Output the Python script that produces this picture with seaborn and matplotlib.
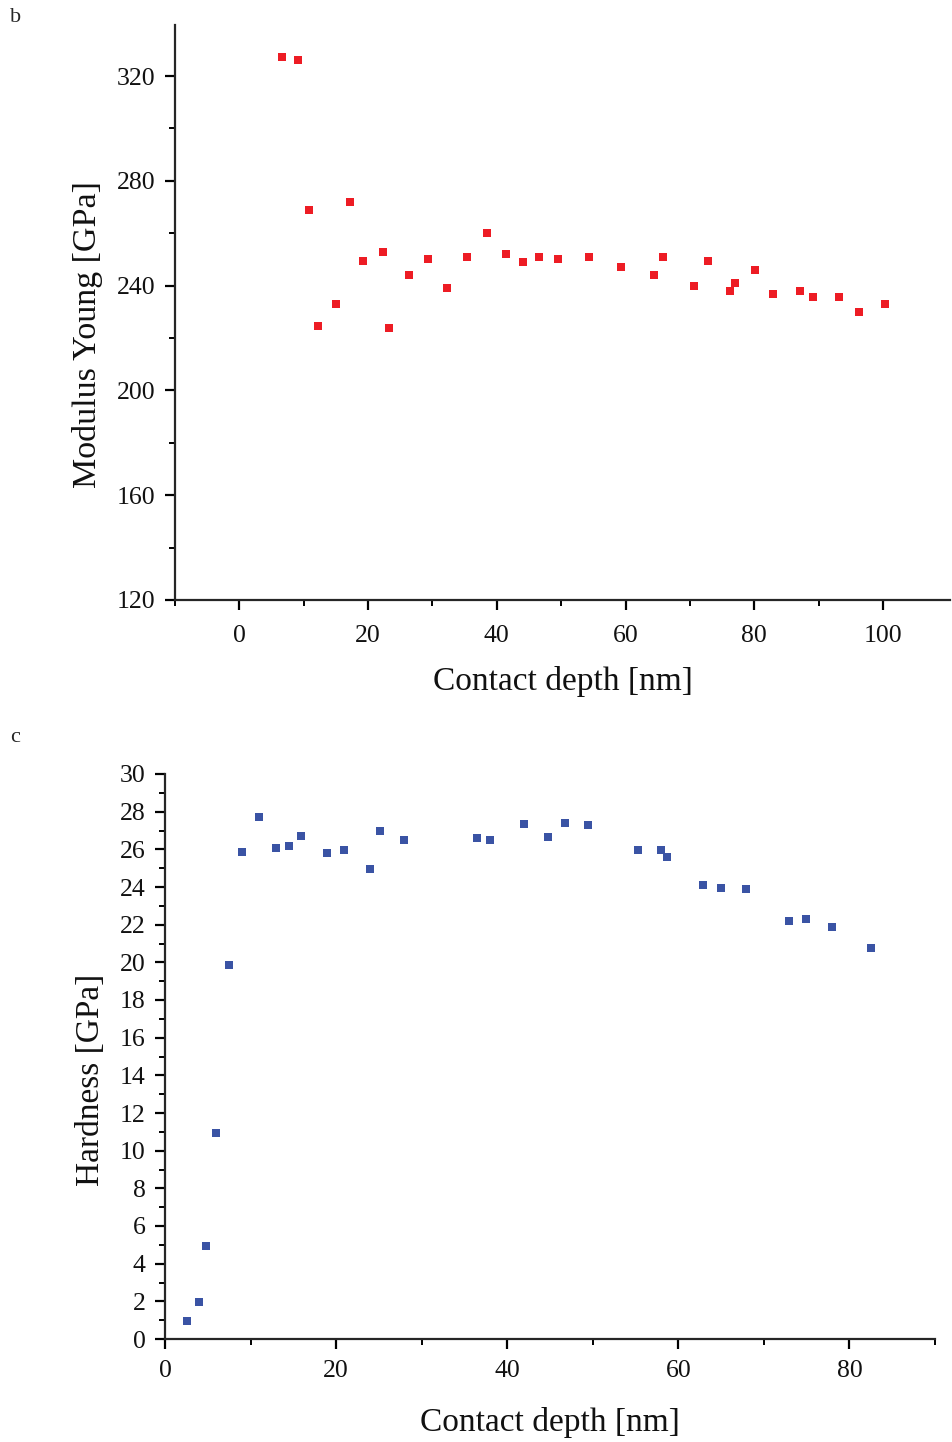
import numpy as np
import pandas as pd
import matplotlib
matplotlib.use("Agg")
import matplotlib.pyplot as plt
from matplotlib.ticker import MultipleLocator, FixedLocator
import seaborn as sns

# Panel b: Young's modulus vs contact depth
depth_b = [6.58, 9.12, 10.77, 12.17, 14.97, 17.21, 19.28, 22.28, 23.32, 26.32,
           29.33, 32.22, 35.44, 38.51, 41.50, 44.04, 46.59, 49.56, 54.25, 59.27,
           64.36, 65.86, 70.68, 72.80, 76.28, 76.99, 80.06, 82.85, 87.16, 89.18,
           93.22, 96.27, 100.31]
modulus_b = [327.2, 326.1, 269.0, 224.6, 233.1, 272.1, 249.6, 253.0, 224.0, 244.2,
             250.0, 239.2, 251.1, 260.1, 252.1, 249.0, 251.1, 250.0, 251.1, 247.1,
             244.2, 251.1, 240.0, 249.6, 238.1, 241.0, 246.0, 237.0, 238.0, 235.6,
             235.6, 230.0, 233.0]

# Panel c: Hardness vs contact depth
depth_c = [2.54, 3.94, 4.75, 5.96, 7.48, 8.96, 10.95, 12.93, 14.45, 15.92,
           18.96, 20.91, 23.95, 25.12, 27.92, 36.45, 37.93, 41.94, 44.78, 46.81,
           49.45, 55.26, 57.94, 58.64, 62.93, 64.95, 67.95, 72.93, 74.96, 77.95,
           82.56]
hardness_c = [0.94, 1.95, 4.94, 10.96, 19.86, 25.85, 27.74, 26.09, 26.2, 26.7,
              25.79, 25.99, 24.98, 26.99, 26.5, 26.61, 26.5, 27.35, 26.64, 27.4,
              27.3, 25.99, 25.99, 25.6, 24.09, 23.97, 23.9, 22.19, 22.29, 21.9,
              20.78]

xlabel = "Contact depth [nm]"
ylabel_b = "Modulus Young [GPa]"
ylabel_c = "Hardness [GPa]"

sns.set_style("ticks")
plt.rcParams['font.family'] = ['Liberation Serif', 'DejaVu Serif']

fig = plt.figure(figsize=(9.53, 14.42), dpi=100)
W, H = 953, 1442

def ax_rect(l, r, t, b):
    return [l / W, 1 - b / H, (r - l) / W, (b - t) / H]

ax1 = fig.add_axes(ax_rect(175, 950, 25, 600))
ax2 = fig.add_axes(ax_rect(165, 935, 774, 1339))

df_b = pd.DataFrame({"depth": depth_b, "modulus": modulus_b})
df_c = pd.DataFrame({"depth": depth_c, "hardness": hardness_c})

sns.scatterplot(data=df_b, x="depth", y="modulus", ax=ax1, marker="s",
                s=34, color="#ED1C24", linewidth=0, zorder=3)
sns.scatterplot(data=df_c, x="depth", y="hardness", ax=ax2, marker="s",
                s=34, color="#3A53A4", linewidth=0, zorder=3)

ax1.set_xlim(-10, 110.4)
ax1.set_ylim(120, 339.5)
ax1.xaxis.set_major_locator(MultipleLocator(20))
ax1.xaxis.set_minor_locator(FixedLocator([-10, 10, 30, 50, 70, 90]))
ax1.yaxis.set_major_locator(MultipleLocator(40))
ax1.yaxis.set_minor_locator(MultipleLocator(20))

ax2.set_xlim(0, 90)
ax2.set_ylim(0, 30)
ax2.xaxis.set_major_locator(MultipleLocator(20))
ax2.xaxis.set_minor_locator(MultipleLocator(10))
ax2.yaxis.set_major_locator(MultipleLocator(2))
ax2.yaxis.set_minor_locator(MultipleLocator(1))

for ax in (ax1, ax2):
    sns.despine(ax=ax)
    ax.spines['left'].set_linewidth(1.6)
    ax.spines['bottom'].set_linewidth(1.6)
    ax.tick_params(which='major', direction='out', length=7, width=1.6,
                   labelsize=18.5, color='black', labelcolor='#111111')
    ax.tick_params(which='minor', direction='out', length=4, width=1.4, color='black')
    ax.tick_params(axis='y', which='major', pad=7)
    ax.set_facecolor('white')

ax1.tick_params(axis='x', which='major', pad=11)
ax1.set_xlabel(xlabel, fontsize=24, labelpad=14, color='#111111')
ax1.set_ylabel(ylabel_b, fontsize=24.5, labelpad=10, color='#111111')
ax1.yaxis.label.set_y(0.461)

ax2.tick_params(axis='x', which='major', pad=8)
ax2.set_xlabel(xlabel, fontsize=24, labelpad=18, color='#111111')
ax2.set_ylabel(ylabel_c, fontsize=24, labelpad=10, color='#111111')
ax2.yaxis.label.set_y(0.458)

fig.text(10 / W, 1 - 17 / H, "b", fontsize=16, va='center', ha='left')
fig.text(10 / W, 1 - 738 / H, "c", fontsize=16, va='center', ha='left')

fig.savefig("out.png", dpi=100, facecolor='white')
